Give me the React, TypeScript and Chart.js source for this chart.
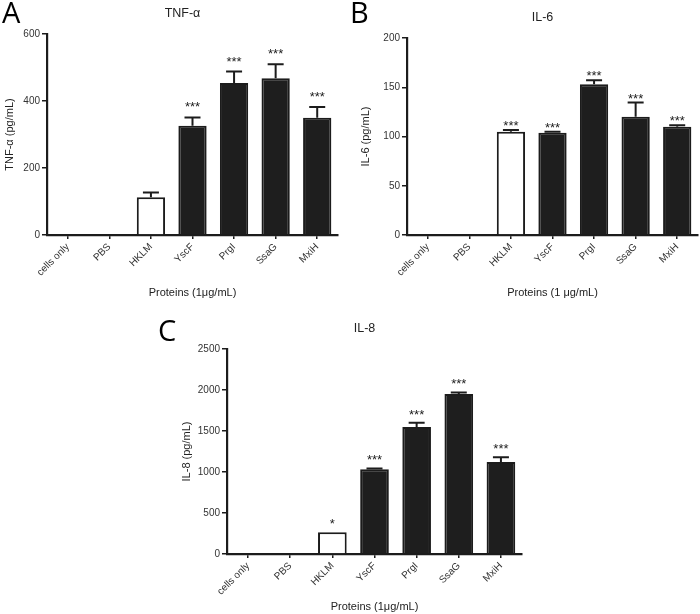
import React, { useEffect, useRef } from 'react';
import { Chart, registerables } from 'chart.js';

Chart.register(...registerables);

const categories = ['cells only', 'PBS', 'HKLM', 'YscF', 'PrgI', 'SsaG', 'MxiH'];

const tnfMeans = [0, 0, 113, 326, 454, 468, 350];
const tnfSem = [0, 0, 14, 25, 34, 42, 32];
const tnfStars = ['', '', '', '***', '***', '***', '***'];
const tnfTicks = { max: 600, step: 200 };

const il6Means = [0, 0, 104.7, 103.7, 153, 120, 109.8];
const il6Sem = [0, 0, 2, 1, 4, 14.5, 1.7];
const il6Stars = ['', '', '***', '***', '***', '***', '***'];
const il6Ticks = { max: 200, step: 50 };

const il8Means = [0, 0, 264, 1035, 1549, 1950, 1123];
const il8Sem = [0, 0, 0, 8, 53, 21, 57];
const il8Stars = ['', '', '*', '***', '***', '***', '***'];
const il8Ticks = { max: 2500, step: 500 };

const FONT = '"Liberation Sans", Arial, Helvetica, sans-serif';
const INK = '#1c1c1c';

type PanelProps = {
  left: number; top: number; width: number; height: number;
  title: string; yTitle: string; xTitle: string;
  means: number[]; sem: number[]; stars: string[];
  yMax: number; yStep: number;
  padTop: number; padRight: number; yWidth: number; xHeight: number;
  yTitlePad: number; xTitlePad: number; starOffset: number;
};

function Panel(p: PanelProps) {
  const ref = useRef<HTMLCanvasElement>(null);
  useEffect(() => {
    const decor = {
      id: 'decor',
      afterDatasetsDraw(chart: any) {
        const ctx = chart.ctx;
        const meta = chart.getDatasetMeta(0);
        const ys = chart.scales.y;
        ctx.save();
        ctx.strokeStyle = INK;
        ctx.fillStyle = INK;
        ctx.lineWidth = 2;
        meta.data.forEach((bar: any, i: number) => {
          const yTop = ys.getPixelForValue(p.means[i] + p.sem[i]);
          if (p.sem[i] > 0) {
            ctx.beginPath();
            ctx.moveTo(bar.x, bar.y);
            ctx.lineTo(bar.x, yTop);
            ctx.moveTo(bar.x - 8, yTop);
            ctx.lineTo(bar.x + 8, yTop);
            ctx.stroke();
          }
          if (p.stars[i]) {
            ctx.font = `13px ${FONT}`;
            ctx.textAlign = 'center';
            ctx.textBaseline = 'alphabetic';
            ctx.fillText(p.stars[i], bar.x, yTop - p.starOffset + 7);
          }
        });
        const ca = chart.chartArea;
        ctx.font = `12.5px ${FONT}`;
        ctx.textAlign = 'center';
        ctx.textBaseline = 'middle';
        ctx.fillStyle = '#222';
        ctx.fillText(p.title, (ca.left + ca.right) / 2 - 10, ca.top - 20);
        ctx.restore();
      },
    };
    const chart = new Chart(ref.current as HTMLCanvasElement, {
      type: 'bar',
      data: {
        labels: categories,
        datasets: [
          {
            data: p.means,
            backgroundColor: categories.map((c) => (c === 'HKLM' ? '#ffffff' : '#1e1e1e')),
            borderColor: INK,
            borderWidth: 2,
            categoryPercentage: 1,
            barPercentage: 0.68,
          },
        ],
      },
      options: {
        responsive: false,
        animation: false,
        devicePixelRatio: 1,
        layout: { padding: { top: p.padTop, right: p.padRight, left: 0, bottom: 0 } },
        plugins: { legend: { display: false }, tooltip: { enabled: false }, title: { display: false } },
        scales: {
          x: {
            offset: true,
            grid: { display: true, offset: false, drawOnChartArea: false, drawTicks: true, tickLength: 4, color: INK, lineWidth: 1.5 },
            border: { display: true, color: INK, width: 2.2 },
            ticks: { maxRotation: 45, minRotation: 45, autoSkip: false, font: { family: FONT, size: 10 }, color: '#333', padding: 2 },
            title: { display: true, text: p.xTitle, font: { family: FONT, size: 11 }, color: '#222', padding: { top: 0, bottom: p.xTitlePad } },
            afterFit: (s: any) => { s.height = p.xHeight; },
          },
          y: {
            min: 0,
            max: p.yMax,
            ticks: {
              stepSize: p.yStep,
              font: { family: FONT, size: 10 },
              color: '#333',
              padding: 2,
              callback: (v: any) => String(v),
            },
            grid: { display: true, drawOnChartArea: false, drawTicks: true, tickLength: 5, color: INK, lineWidth: 1.5 },
            border: { display: true, color: INK, width: 2.2 },
            title: { display: true, text: p.yTitle, font: { family: FONT, size: 11 }, color: '#222', padding: { top: p.yTitlePad, bottom: 0 } },
            afterFit: (s: any) => { s.width = p.yWidth; },
          },
        },
      },
      plugins: [decor],
    } as any);
    return () => chart.destroy();
  }, []);
  return (
    <canvas
      ref={ref}
      width={p.width}
      height={p.height}
      style={{ position: 'absolute', left: p.left, top: p.top, width: p.width, height: p.height }}
    />
  );
}

const letterStyle: React.CSSProperties = {
  position: 'absolute',
  fontFamily: '"Open Sans", sans-serif',
  fontSize: 29,
  lineHeight: 1,
  color: '#000',
};

export default function App() {
  return (
    <div style={{ position: 'absolute', left: 0, top: 0, width: 700, height: 614, background: '#fff', overflow: 'hidden' }}>
      <Panel
        left={0} top={0} width={345} height={305}
        title="TNF-α" yTitle="TNF-α (pg/mL)" xTitle="Proteins (1μg/mL)"
        means={tnfMeans} sem={tnfSem} stars={tnfStars}
        yMax={tnfTicks.max} yStep={tnfTicks.step}
        padTop={34} padRight={7} yWidth={47} xHeight={70}
        yTitlePad={3} xTitlePad={5} starOffset={13}
      />
      <Panel
        left={355} top={0} width={345} height={305}
        title="IL-6" yTitle="IL-6 (pg/mL)" xTitle="Proteins (1 μg/mL)"
        means={il6Means} sem={il6Sem} stars={il6Stars}
        yMax={il6Ticks.max} yStep={il6Ticks.step}
        padTop={38} padRight={2} yWidth={52} xHeight={70}
        yTitlePad={4} xTitlePad={5} starOffset={7}
      />
      <Panel
        left={140} top={300} width={400} height={314}
        title="IL-8" yTitle="IL-8 (pg/mL)" xTitle="Proteins (1μg/mL)"
        means={il8Means} sem={il8Sem} stars={il8Stars}
        yMax={il8Ticks.max} yStep={il8Ticks.step}
        padTop={49} padRight={18} yWidth={87} xHeight={60}
        yTitlePad={40} xTitlePad={0} starOffset={11}
      />
      <div style={{ ...letterStyle, left: 2, top: -3 }}>A</div>
      <div style={{ ...letterStyle, left: 350, top: -3 }}>B</div>
      <div style={{ ...letterStyle, left: 158, top: 315 }}>C</div>
    </div>
  );
}
